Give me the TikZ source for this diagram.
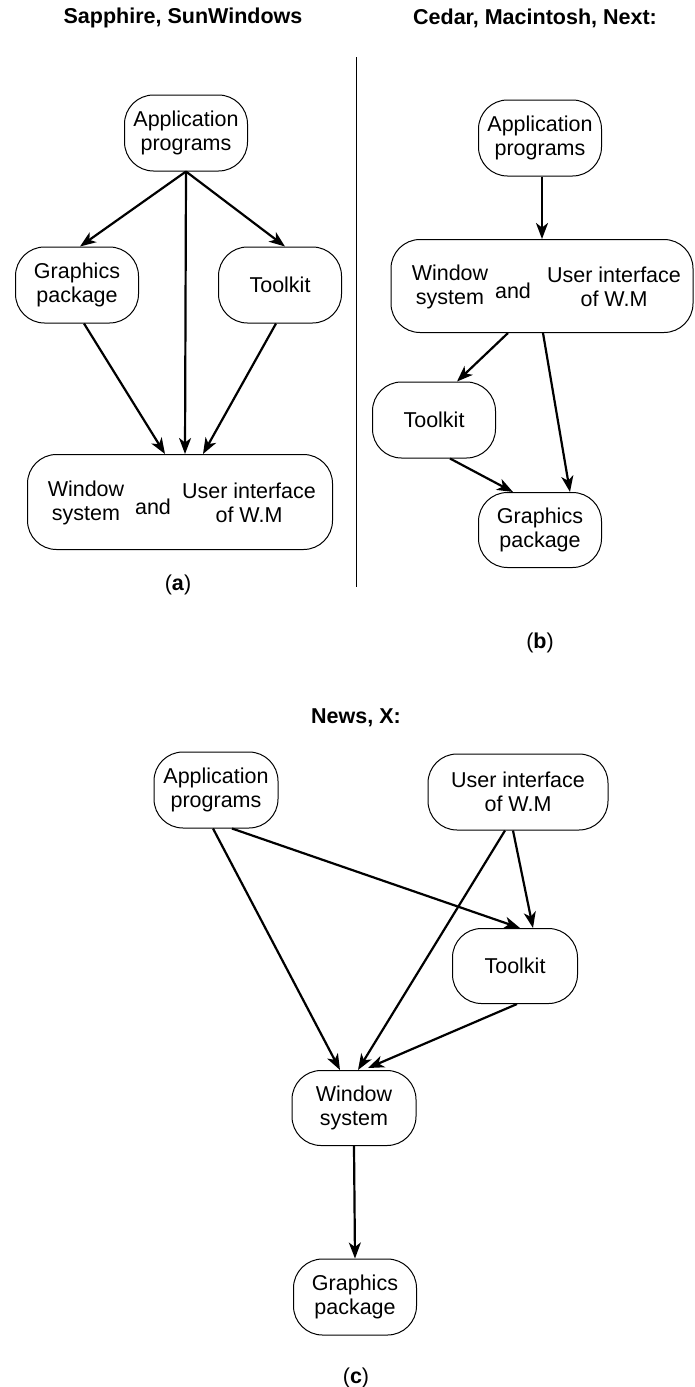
\documentclass[tikz,border=0pt]{standalone}
\usepackage{fontspec}
\setmainfont{Liberation Sans}
\usetikzlibrary{arrows.meta}
\begin{document}
\begin{tikzpicture}[x=1pt,y=-1pt,
  box/.style={draw, line width=1pt, rounded corners=29pt, minimum width=123pt, minimum height=76pt, align=center, inner sep=0pt, font=\fontsize{21.5}{23.5}\selectfont},
  txt/.style={align=center, inner sep=0pt, font=\fontsize{21.5}{23.5}\selectfont},
  ttl/.style={inner sep=0pt, font=\fontsize{21.5}{24}\selectfont\bfseries},
  arr/.style={-{Stealth[length=16pt,width=12pt,inset=4.5pt]}, line width=2.2pt}]
\useasboundingbox (0,0) rectangle (695,1387);

% ---------- (a) ----------
\node[ttl] (tA) at (183,18) {Sapphire, SunWindows};
\node[box] (appA) at (186,133) {Application\\programs};
\node[box] (gpA) at (77,285) {Graphics\\package};
\node[box] (tkA) at (280,285) {Toolkit};
\node[box, minimum width=305pt, minimum height=95pt] (wsA) at (180,502) {};
\node[txt] (wsA1) at (86,503) {Window\\system};
\node[txt] (wsA2) at (153,507) {and};
\node[txt] (wsA3) at (249,503) {User interface\\of W.M};
\node[txt] (lA) at (178,585) {(\textbf{a})};

\draw[arr] (appA.south) -- ([xshift=3pt]gpA.north);
\draw[arr] (appA.south) -- ([xshift=5pt]tkA.north);
\draw[arr] (appA.south) -- ([xshift=5pt]wsA.north);
\draw[arr] ([xshift=7pt]gpA.south) -- ([xshift=-15pt]wsA.north);
\draw[arr] ([xshift=-4pt]tkA.south) -- ([xshift=23pt]wsA.north);

% divider
\draw[line width=1pt] (356,57) -- (356,587);

% ---------- (b) ----------
\node[ttl] (tB) at (535,18) {Cedar, Macintosh, Next:};
\node[box] (appB) at (540,138) {Application\\programs};
\node[box, minimum width=302pt, minimum height=93pt] (wsB) at (542,286) {};
\node[txt] (wsB1) at (450,287) {Window\\system};
\node[txt] (wsB2) at (513,291) {and};
\node[txt] (wsB3) at (614,287) {User interface\\of W.M};
\node[box] (tkB) at (434,420) {Toolkit};
\node[box, minimum height=75pt] (gpB) at (540,530) {Graphics\\package};
\node[txt] (lB) at (540,643) {(\textbf{b})};

\draw[arr] ([xshift=2pt]appB.south) -- (wsB.north);
\draw[arr] ([xshift=-34pt]wsB.south) -- ([xshift=23pt]tkB.north);
\draw[arr] ([xshift=1pt]wsB.south) -- ([xshift=30pt]gpB.north);
\draw[arr] ([xshift=16pt]tkB.south) -- ([xshift=-27pt]gpB.north);

% ---------- (c) ----------
\node[ttl] (tC) at (356,718) {News, X:};
\node[box, minimum width=124pt] (appC) at (216,790) {Application\\programs};
\node[box, minimum width=180pt] (uiC) at (518,792) {User interface\\of W.M};
\node[box, minimum width=125pt, minimum height=75pt] (tkC) at (515,966) {Toolkit};
\node[box, minimum width=124pt, minimum height=75pt] (wsC) at (354,1108) {Window\\system};
\node[box, minimum width=123pt] (gpC) at (355,1297) {Graphics\\package};
\node[txt] (lC) at (356,1378) {(\textbf{c})};

\draw[arr] ([xshift=-3pt]appC.south) -- ([xshift=-14pt]wsC.north);
\draw[arr] ([xshift=16pt]appC.south) -- ([xshift=5pt]tkC.north);
\draw[arr] ([xshift=-13pt]uiC.south) -- ([xshift=4pt]wsC.north);
\draw[arr] ([xshift=-5pt]uiC.south) -- ([xshift=18pt]tkC.north);
\draw[arr] ([xshift=2pt]tkC.south) -- ([xshift=14pt,yshift=2pt]wsC.north);
\draw[arr] (wsC.south) -- (gpC.north);
\end{tikzpicture}
\end{document}
